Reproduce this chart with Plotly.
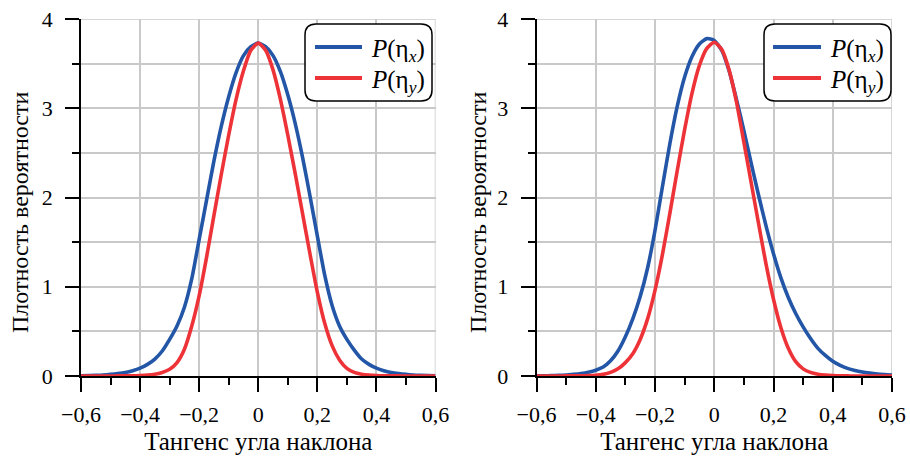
import plotly.graph_objects as go

W, H = 910, 457

# Slope (tangent) grid shared by all curves, step 0.025
slope = [round(-0.6 + 0.025 * i, 3) for i in range(49)]

# Left panel: probability densities of the slope components
left_px = [0.003, 0.005, 0.007, 0.012, 0.018, 0.027, 0.040, 0.060, 0.088, 0.13, 0.19, 0.28,
           0.41, 0.56, 0.77, 1.09, 1.53, 1.97, 2.41, 2.80, 3.13, 3.40, 3.59, 3.69,
           3.73,
           3.69, 3.59, 3.41, 3.15, 2.83, 2.45, 2.02, 1.57, 1.13, 0.79, 0.56, 0.41,
           0.29, 0.19, 0.13, 0.088, 0.060, 0.040, 0.027, 0.018, 0.012, 0.007, 0.005, 0.003]
left_py = [0.000, 0.000, 0.000, 0.000, 0.000, 0.001, 0.001, 0.002, 0.005, 0.010, 0.020, 0.040,
           0.075, 0.15, 0.30, 0.56, 0.90, 1.33, 1.80, 2.26, 2.70, 3.10, 3.42, 3.65,
           3.73,
           3.65, 3.43, 3.10, 2.70, 2.27, 1.82, 1.37, 0.94, 0.59, 0.34, 0.18, 0.085,
           0.040, 0.020, 0.010, 0.005, 0.002, 0.001, 0.001, 0.000, 0.000, 0.000, 0.000, 0.000]

# Right panel
right_px = [0.002, 0.003, 0.004, 0.007, 0.010, 0.018, 0.028, 0.043, 0.065, 0.10, 0.17, 0.28,
            0.44, 0.64, 0.89, 1.21, 1.63, 2.12, 2.60, 3.02, 3.35, 3.58, 3.72, 3.78,
            3.76,
            3.65, 3.42, 3.10, 2.75, 2.38, 2.02, 1.68, 1.37, 1.10, 0.88, 0.70, 0.55,
            0.42, 0.31, 0.23, 0.165, 0.12, 0.085, 0.062, 0.045, 0.032, 0.022, 0.015, 0.010]
right_py = [0.000, 0.000, 0.000, 0.000, 0.001, 0.001, 0.002, 0.004, 0.008, 0.018, 0.040, 0.080,
            0.15, 0.25, 0.41, 0.64, 0.96, 1.36, 1.82, 2.30, 2.76, 3.17, 3.48, 3.67,
            3.74,
            3.66, 3.43, 3.07, 2.62, 2.16, 1.70, 1.25, 0.86, 0.54, 0.31, 0.16, 0.080,
            0.040, 0.020, 0.010, 0.005, 0.002, 0.001, 0.000, 0.000, 0.000, 0.000, 0.000, 0.000]

legend_names = ["<i>P</i>(η<sub><i>x</i></sub>)", "<i>P</i>(η<sub><i>y</i></sub>)"]
x_title = "Тангенс угла наклона"
y_title = "Плотность вероятности"

BLUE = "#2356A6"
RED = "#EE3338"
GRID = "#c9c9c9"
FONT = "'Liberation Serif', 'Times New Roman', 'DejaVu Serif', serif"


def px(x):
    return x / W


def py(y):
    return 1 - y / H


fig = go.Figure()

panels = [("x", "y", left_px, left_py), ("x2", "y2", right_px, right_py)]
for xa, ya, bx, ry in panels:
    fig.add_trace(go.Scatter(x=slope, y=bx, mode="lines",
                             line=dict(color=BLUE, width=3.6, shape="spline", smoothing=0.6),
                             xaxis=xa, yaxis=ya, name="P(ηx)", cliponaxis=False, showlegend=False))
    fig.add_trace(go.Scatter(x=slope, y=ry, mode="lines",
                             line=dict(color=RED, width=3.6, shape="spline", smoothing=0.6),
                             xaxis=xa, yaxis=ya, name="P(ηy)", cliponaxis=False, showlegend=False))

xdoms = [[px(81), px(435.5)], [px(536.5), px(892)]]
ydom = [py(376), py(19)]

common_x = dict(
    range=[-0.6, 0.6], tick0=0, dtick=0.2, showline=True, linecolor="black", linewidth=1.5,
    ticks="outside", ticklen=14, tickwidth=1.5, tickcolor="black",
    showgrid=True, gridcolor=GRID, gridwidth=1.5, zeroline=False, automargin=False,
    minor=dict(dtick=0.1, ticks="outside", ticklen=7, tickwidth=1.5, tickcolor="black", showgrid=False),
    tickfont=dict(family=FONT, size=22, color="black"), ticklabelstandoff=4,
    title=dict(text=x_title, font=dict(family=FONT, size=25, color="black"), standoff=6),
    fixedrange=True,
)
common_y = dict(
    range=[0, 4], tick0=0, dtick=1, showline=True, linecolor="black", linewidth=1.5,
    ticks="outside", ticklen=14, tickwidth=1.5, tickcolor="black",
    showgrid=True, gridcolor=GRID, gridwidth=1.5, zeroline=False, automargin=False,
    minor=dict(dtick=0.5, ticks="outside", ticklen=7, tickwidth=1.5, tickcolor="black",
               showgrid=True, gridcolor=GRID, gridwidth=1.5),
    tickfont=dict(family=FONT, size=22, color="black"), ticklabelstandoff=8,
    fixedrange=True,
)

fig.update_layout(
    width=W, height=H, margin=dict(l=0, r=0, t=0, b=0, autoexpand=False),
    paper_bgcolor="white", plot_bgcolor="white",
    separators=", ",
    font=dict(family=FONT, color="black"),
    xaxis=dict(common_x, domain=xdoms[0], anchor="y"),
    yaxis=dict(common_y, domain=ydom, anchor="x"),
    xaxis2=dict(common_x, domain=xdoms[1], anchor="y2"),
    yaxis2=dict(common_y, domain=ydom, anchor="x2"),
)

shapes = []
annotations = []

# Grid lines at the far edges of each plot
for xr, yr in [("x", "y"), ("x2", "y2")]:
    shapes.append(dict(type="line", xref=xr, yref=yr, x0=0.6, x1=0.6, y0=0, y1=4,
                       line=dict(color=GRID, width=1.5), layer="below"))
    shapes.append(dict(type="line", xref=xr, yref=yr, x0=-0.6, x1=0.6, y0=4, y1=4,
                       line=dict(color=GRID, width=1.5), layer="below"))


def rounded_box(x0, y0, x1, y1, r):
    rx, ry = r / W, r / H
    X0, X1 = px(x0), px(x1)
    Y0, Y1 = py(y1), py(y0)  # bottom, top in paper units
    return (f"M {X0 + rx},{Y1} L {X1 - rx},{Y1} Q {X1},{Y1} {X1},{Y1 - ry} "
            f"L {X1},{Y0 + ry} Q {X1},{Y0} {X1 - rx},{Y0} "
            f"L {X0 + rx},{Y0} Q {X0},{Y0} {X0},{Y0 + ry} "
            f"L {X0},{Y1 - ry} Q {X0},{Y1} {X0 + rx},{Y1} Z")


# Legend boxes drawn by hand (rounded frame, line samples, labels)
for bx0, bx1, lx0, lx1, tx in [(305, 432, 315, 362, 369), (764, 891, 773, 821, 828)]:
    shapes.append(dict(type="path", xref="paper", yref="paper", path=rounded_box(bx0, 24, bx1, 101, 11),
                       line=dict(color="black", width=1.5), fillcolor="white", layer="above"))
    for yy, col, name in [(47, BLUE, legend_names[0]), (78, RED, legend_names[1])]:
        shapes.append(dict(type="line", xref="paper", yref="paper", x0=px(lx0), x1=px(lx1), y0=py(yy), y1=py(yy),
                           line=dict(color=col, width=4), layer="above"))
        annotations.append(dict(xref="paper", yref="paper", x=px(tx), y=py(yy + 3), xanchor="left", yanchor="middle",
                                text=name, showarrow=False, font=dict(family=FONT, size=25, color="black")))

# Vertical axis titles
for xc in [20, 478]:
    annotations.append(dict(xref="paper", yref="paper", x=px(xc), y=py(212), xanchor="center", yanchor="middle",
                            text=y_title, textangle=-90, showarrow=False,
                            font=dict(family=FONT, size=24, color="black")))

fig.update_layout(shapes=shapes, annotations=annotations)

fig.write_html("out.html")
